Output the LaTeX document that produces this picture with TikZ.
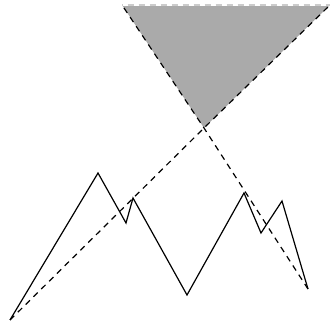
\documentclass[tikz,border=0pt]{standalone}
\usepackage{tikz}
\definecolor{conegray}{HTML}{AAAAAA}
\tikzset{
  curve/.style={line width=1.2pt, black, line join=miter},
  guide/.style={line width=1.2pt, black, dash pattern=on 6pt off 5pt},
  cone/.style={fill=conegray, draw=none},
}

\begin{document}
\begin{tikzpicture}[x=1pt, y=-1pt]
  \useasboundingbox (0,0) rectangle (330,326);
  % zigzag points
  \coordinate (p0) at (10,320);
  \coordinate (p1) at (98,173);
  \coordinate (p2) at (126,223);
  \coordinate (p3) at (133,198);
  \coordinate (p4) at (187,295);
  \coordinate (p5) at (244,193);
  \coordinate (p6) at (261,233);
  \coordinate (p7) at (282,201);
  \coordinate (p8) at (308,289);
  % cone
  \coordinate (apex) at (204,128);
  \coordinate (tl) at (122,5);
  \coordinate (tr) at (330,5);

  \fill[cone] (apex) -- (tl) -- (tr) -- cycle;
  \draw[guide] (p0) -- (apex) -- (tr);
  \draw[guide] (p8) -- (apex) -- (tl);
  \draw[guide, white] (tl) -- (tr);
  \draw[guide, dash phase=5.5pt, conegray!60!white] (tl) -- (tr);

  \draw[curve] (p0) -- (p1) -- (p2) -- (p3) -- (p4) -- (p5) -- (p6) -- (p7) -- (p8);
\end{tikzpicture}
\end{document}
